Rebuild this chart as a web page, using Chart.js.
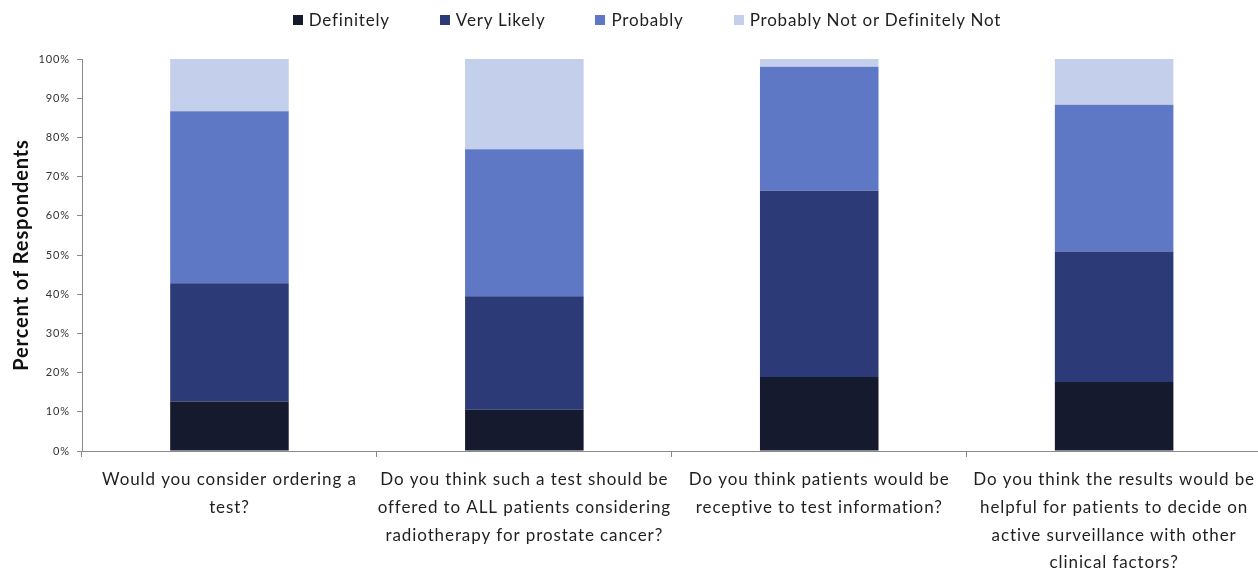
<!DOCTYPE html>
<html>
<head>
<meta charset="utf-8">
<script src="https://cdn.jsdelivr.net/npm/chart.js@4/dist/chart.umd.min.js"></script>
<style>
  html, body { margin: 0; padding: 0; background: #ffffff; overflow: hidden; }
  #wrap { position: absolute; left: 0; top: 0; width: 1264px; height: 568px; }
  #legend { position: absolute; left: 18px; top: 9px; width: 1258px; display: flex; justify-content: center;
            font-family: Lato, "Liberation Sans", sans-serif; font-size: 17px; letter-spacing: 0.8px;
            color: #1f1f1f; z-index: 2; }
  #legend .item { display: flex; align-items: center; margin: 0 25px; white-space: nowrap; }
  #legend .box { width: 10px; height: 10px; margin-right: 6px; }
</style>
</head>
<body>
<div id="legend"></div>
<div id="wrap"><canvas id="chart"></canvas></div>
<script>
// Survey questions (multi-line category labels)
const questions = [
  ["Would you consider ordering a", "test?"],
  ["Do you think such a test should be", "offered to ALL patients considering", "radiotherapy for prostate cancer?"],
  ["Do you think patients would be", "receptive to test information?"],
  ["Do you think the results would be", "helpful for patients to decide on", "active surveillance with other", "clinical factors?"]
];

// Response shares, percent of respondents per question
const definitely    = [12.6, 10.5, 18.9, 17.6];
const veryLikely    = [30.2, 29.0, 47.5, 33.3];
const probably      = [43.9, 37.5, 31.6, 37.4];
const probablyNot   = [13.3, 23.0, 2.0, 11.7];

const seriesNames  = ["Definitely", "Very Likely", "Probably", "Probably Not or Definitely Not"];
const seriesColors = ["#151a2e", "#2d3a78", "#5e78c6", "#c4cfec"];
const seriesValues = [definitely, veryLikely, probably, probablyNot];

// y-axis tick labels
const yTicks = ["0%", "10%", "20%", "30%", "40%", "50%", "60%", "70%", "80%", "90%", "100%"];

const FONT = "Lato, 'Liberation Sans', sans-serif";
const AXIS_GRAY = "#8a8a8a";
const TEXT_SPACING = "0.9px";

// Slightly wider text tracking for all canvas text
const tracking = {
  id: "tracking",
  beforeUpdate(chart) { chart.ctx.letterSpacing = TEXT_SPACING; },
  beforeDraw(chart) { chart.ctx.letterSpacing = TEXT_SPACING; }
};

const datasets = seriesNames.map((name, i) => ({
  label: name,
  data: seriesValues[i],
  backgroundColor: seriesColors[i],
  borderWidth: 0,
  barPercentage: 0.402,
  categoryPercentage: 1.0
}));

const chart = new Chart(document.getElementById("chart"), {
  type: "bar",
  data: { labels: questions, datasets },
  plugins: [tracking],
  options: {
    responsive: true,
    maintainAspectRatio: false,
    animation: false,
    layout: { padding: { top: 59, right: 0, left: 0, bottom: 0 } },
    plugins: {
      legend: { display: false },
      tooltip: { enabled: false }
    },
    scales: {
      x: {
        stacked: true,
        afterFit: (s) => { s.height = 117; },
        border: { display: true, color: AXIS_GRAY, width: 1 },
        grid: { display: true, drawOnChartArea: false, drawTicks: true, tickLength: 6, color: AXIS_GRAY, offset: true },
        ticks: {
          color: "#1f1f1f",
          padding: 9,
          maxRotation: 0,
          autoSkip: false,
          font: { family: FONT, size: 17, lineHeight: 27.7 / 17 }
        }
      },
      y: {
        stacked: true,
        min: 0,
        max: 100,
        afterFit: (s) => { s.width = 82; },
        border: { display: true, color: AXIS_GRAY, width: 1 },
        grid: { display: true, drawOnChartArea: false, drawTicks: true, tickLength: 5, color: AXIS_GRAY },
        ticks: {
          stepSize: 10,
          padding: 7,
          color: "#333333",
          font: { family: FONT, size: 11 },
          callback: (v) => yTicks[Math.round(v / 10)]
        },
        title: {
          display: true,
          text: "Percent of Respondents",
          color: "#111111",
          padding: { top: 10, bottom: 0 },
          font: { family: FONT, size: 20, weight: "bold" }
        }
      }
    }
  }
});

// Legend built from the chart's datasets
const legendEl = document.getElementById("legend");
chart.data.datasets.forEach((ds) => {
  const item = document.createElement("div");
  item.className = "item";
  const box = document.createElement("span");
  box.className = "box";
  box.style.background = ds.backgroundColor;
  const txt = document.createElement("span");
  txt.textContent = ds.label;
  item.appendChild(box);
  item.appendChild(txt);
  legendEl.appendChild(item);
});
</script>
</body>
</html>
